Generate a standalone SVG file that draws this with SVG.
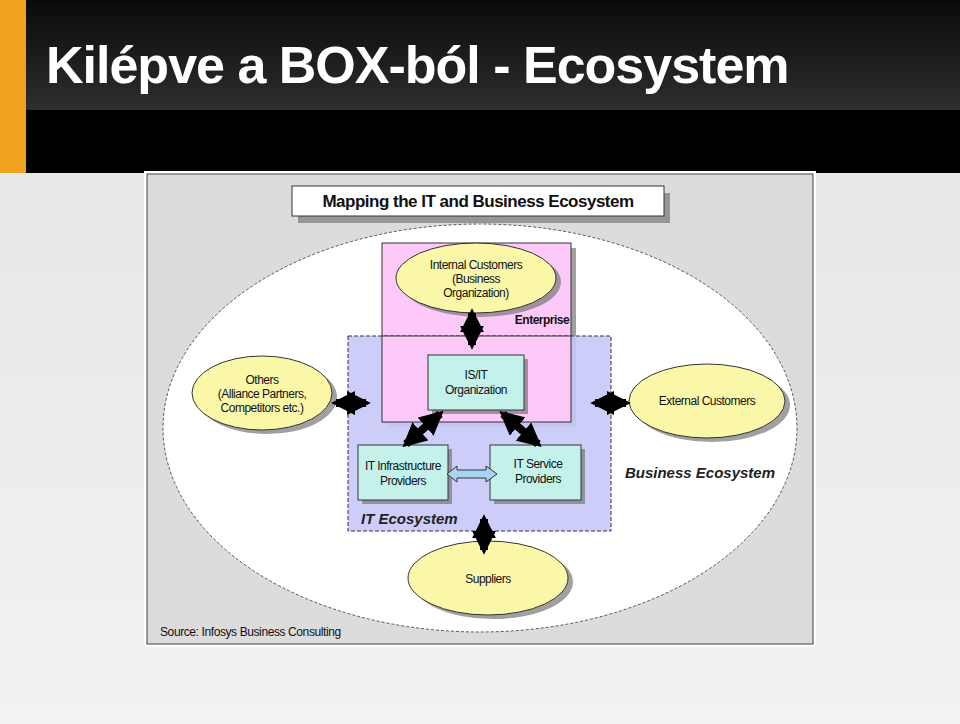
<svg xmlns="http://www.w3.org/2000/svg" width="960" height="724" viewBox="0 0 960 724">
<defs>
<linearGradient id="hd" x1="0" y1="0" x2="0" y2="1"><stop offset="0" stop-color="#0a0a0a"/><stop offset="1" stop-color="#2e2e2e"/></linearGradient>
<linearGradient id="bg" x1="0" y1="0" x2="0" y2="1"><stop offset="0" stop-color="#e4e4e4"/><stop offset="1" stop-color="#f2f2f2"/></linearGradient>
<marker id="ah" viewBox="0 0 10 10" refX="8" refY="5" markerWidth="3" markerHeight="3" orient="auto-start-reverse"><path d="M0,0L10,5L0,10z" fill="#000"/></marker>
</defs>
<style>
.el{fill:#fbf7a8;stroke:#333;stroke-width:1}
.bx{fill:#c4f2ea;stroke:#333;stroke-width:1}
.sh{fill:#777;opacity:.7}
.t{font-family:"Liberation Sans",Arial,sans-serif;font-size:12px;fill:#111;text-anchor:middle;letter-spacing:-0.5px}
.bi{font-family:"Liberation Sans",Arial,sans-serif;font-size:15px;font-weight:bold;font-style:italic;fill:#222}
.ar{stroke:#000;stroke-width:8;fill:none;marker-start:url(#ah);marker-end:url(#ah)}
</style>
<rect width="960" height="724" fill="url(#bg)"/>
<rect width="960" height="173" fill="#000"/>
<rect width="960" height="110" fill="url(#hd)"/>
<rect width="26" height="173" fill="#f0a21e"/>
<text x="46" y="83" font-family="Liberation Sans,Arial,sans-serif" font-size="52" font-weight="bold" fill="#fff" letter-spacing="-1">Kilépve a BOX-ból - Ecosystem</text>
<g id="frame">
<rect x="144" y="171" width="672" height="476" fill="#fff"/>
<rect x="147" y="174" width="666" height="470" fill="#dcdcdc" stroke="#444"/>
</g>
<g id="title">
<rect x="298" y="193" width="372" height="30" class="sh"/>
<rect x="292" y="186" width="372" height="30" fill="#fff" stroke="#333"/>
<text x="478" y="207" font-family="Liberation Sans,Arial,sans-serif" font-size="17" font-weight="bold" fill="#111" text-anchor="middle" letter-spacing="-0.5">Mapping the IT and Business Ecosystem</text>
</g>
<g id="business">
<ellipse cx="480" cy="428" rx="317" ry="204" fill="#fff" stroke="#555" stroke-dasharray="3,2"/>
<text x="700" y="478" class="bi" text-anchor="middle">Business Ecosystem</text>
</g>
<g id="enterprise">
<rect x="387" y="248" width="189" height="179" class="sh"/>
<rect x="382" y="243" width="189" height="179" fill="#fdc9f8" stroke="#333"/>
</g>
<g id="itEco">
<rect x="348" y="336" width="263" height="195" fill="#c8c8f8" fill-opacity="0.9" stroke="#333" stroke-dasharray="4,2"/>
<text x="361" y="524" class="bi">IT Ecosystem</text>
</g>
<rect x="382" y="336" width="189" height="86" fill="#fdc9f8" stroke="#333"/>
<text x="542" y="324" class="t" font-weight="bold" text-anchor="middle">Enterprise</text>
<g id="internal">
<ellipse cx="481" cy="282" rx="80" ry="35" class="sh"/>
<ellipse cx="476" cy="278" rx="80" ry="35" class="el"/>
<text class="t" x="476" y="269">Internal Customers</text><text class="t" x="476" y="283">(Business</text><text class="t" x="476" y="297">Organization)</text>
</g>
<g id="isit">
<rect x="432" y="359" width="96" height="55" class="sh"/>
<rect x="428" y="355" width="96" height="55" class="bx"/>
<text class="t" x="476" y="379">IS/IT</text><text class="t" x="476" y="394">Organization</text>
</g>
<g id="others">
<ellipse cx="267" cy="397" rx="70" ry="37" class="sh"/>
<ellipse cx="262" cy="393" rx="70" ry="37" class="el"/>
<text class="t" x="262" y="384">Others</text><text class="t" x="262" y="398">(Alliance Partners,</text><text class="t" x="262" y="412">Competitors etc.)</text>
</g>
<g id="external">
<ellipse cx="712" cy="405" rx="78" ry="37" class="sh"/>
<ellipse cx="707" cy="401" rx="78" ry="37" class="el"/>
<text class="t" x="707" y="405">External Customers</text>
</g>
<g id="infra">
<rect x="362" y="449" width="90" height="55" class="sh"/>
<rect x="358" y="445" width="90" height="55" class="bx"/>
<text class="t" x="403" y="470">IT Infrastructure</text><text class="t" x="403" y="485">Providers</text>
</g>
<g id="service">
<rect x="494" y="449" width="91" height="55" class="sh"/>
<rect x="490" y="445" width="91" height="55" class="bx"/>
<text class="t" x="538" y="468">IT Service</text><text class="t" x="538" y="483">Providers</text>
</g>
<g id="suppliers">
<ellipse cx="493" cy="582" rx="80" ry="37" class="sh"/>
<ellipse cx="488" cy="578" rx="80" ry="37" class="el"/>
<text class="t" x="488" y="583">Suppliers</text>
</g>
<g id="connectors">
<line x1="472" y1="313" x2="472" y2="345" class="ar"/>
<line x1="336" y1="403" x2="366" y2="403" class="ar"/>
<line x1="595" y1="403" x2="626" y2="403" class="ar"/>
<line x1="484" y1="519" x2="484" y2="550" class="ar"/>
<line x1="440" y1="414" x2="406" y2="444" class="ar"/>
<line x1="503" y1="414" x2="538" y2="444" class="ar"/>
<path d="M447,474 L457,466 L457,470 L486,470 L486,466 L497,474 L486,482 L486,478 L457,478 L457,482 Z" fill="#a8d4f4" stroke="#333"/>
</g>
<text x="160" y="636" font-family="Liberation Sans,Arial,sans-serif" font-size="12" fill="#111" letter-spacing="-0.4">Source: Infosys Business Consulting</text>
</svg>
